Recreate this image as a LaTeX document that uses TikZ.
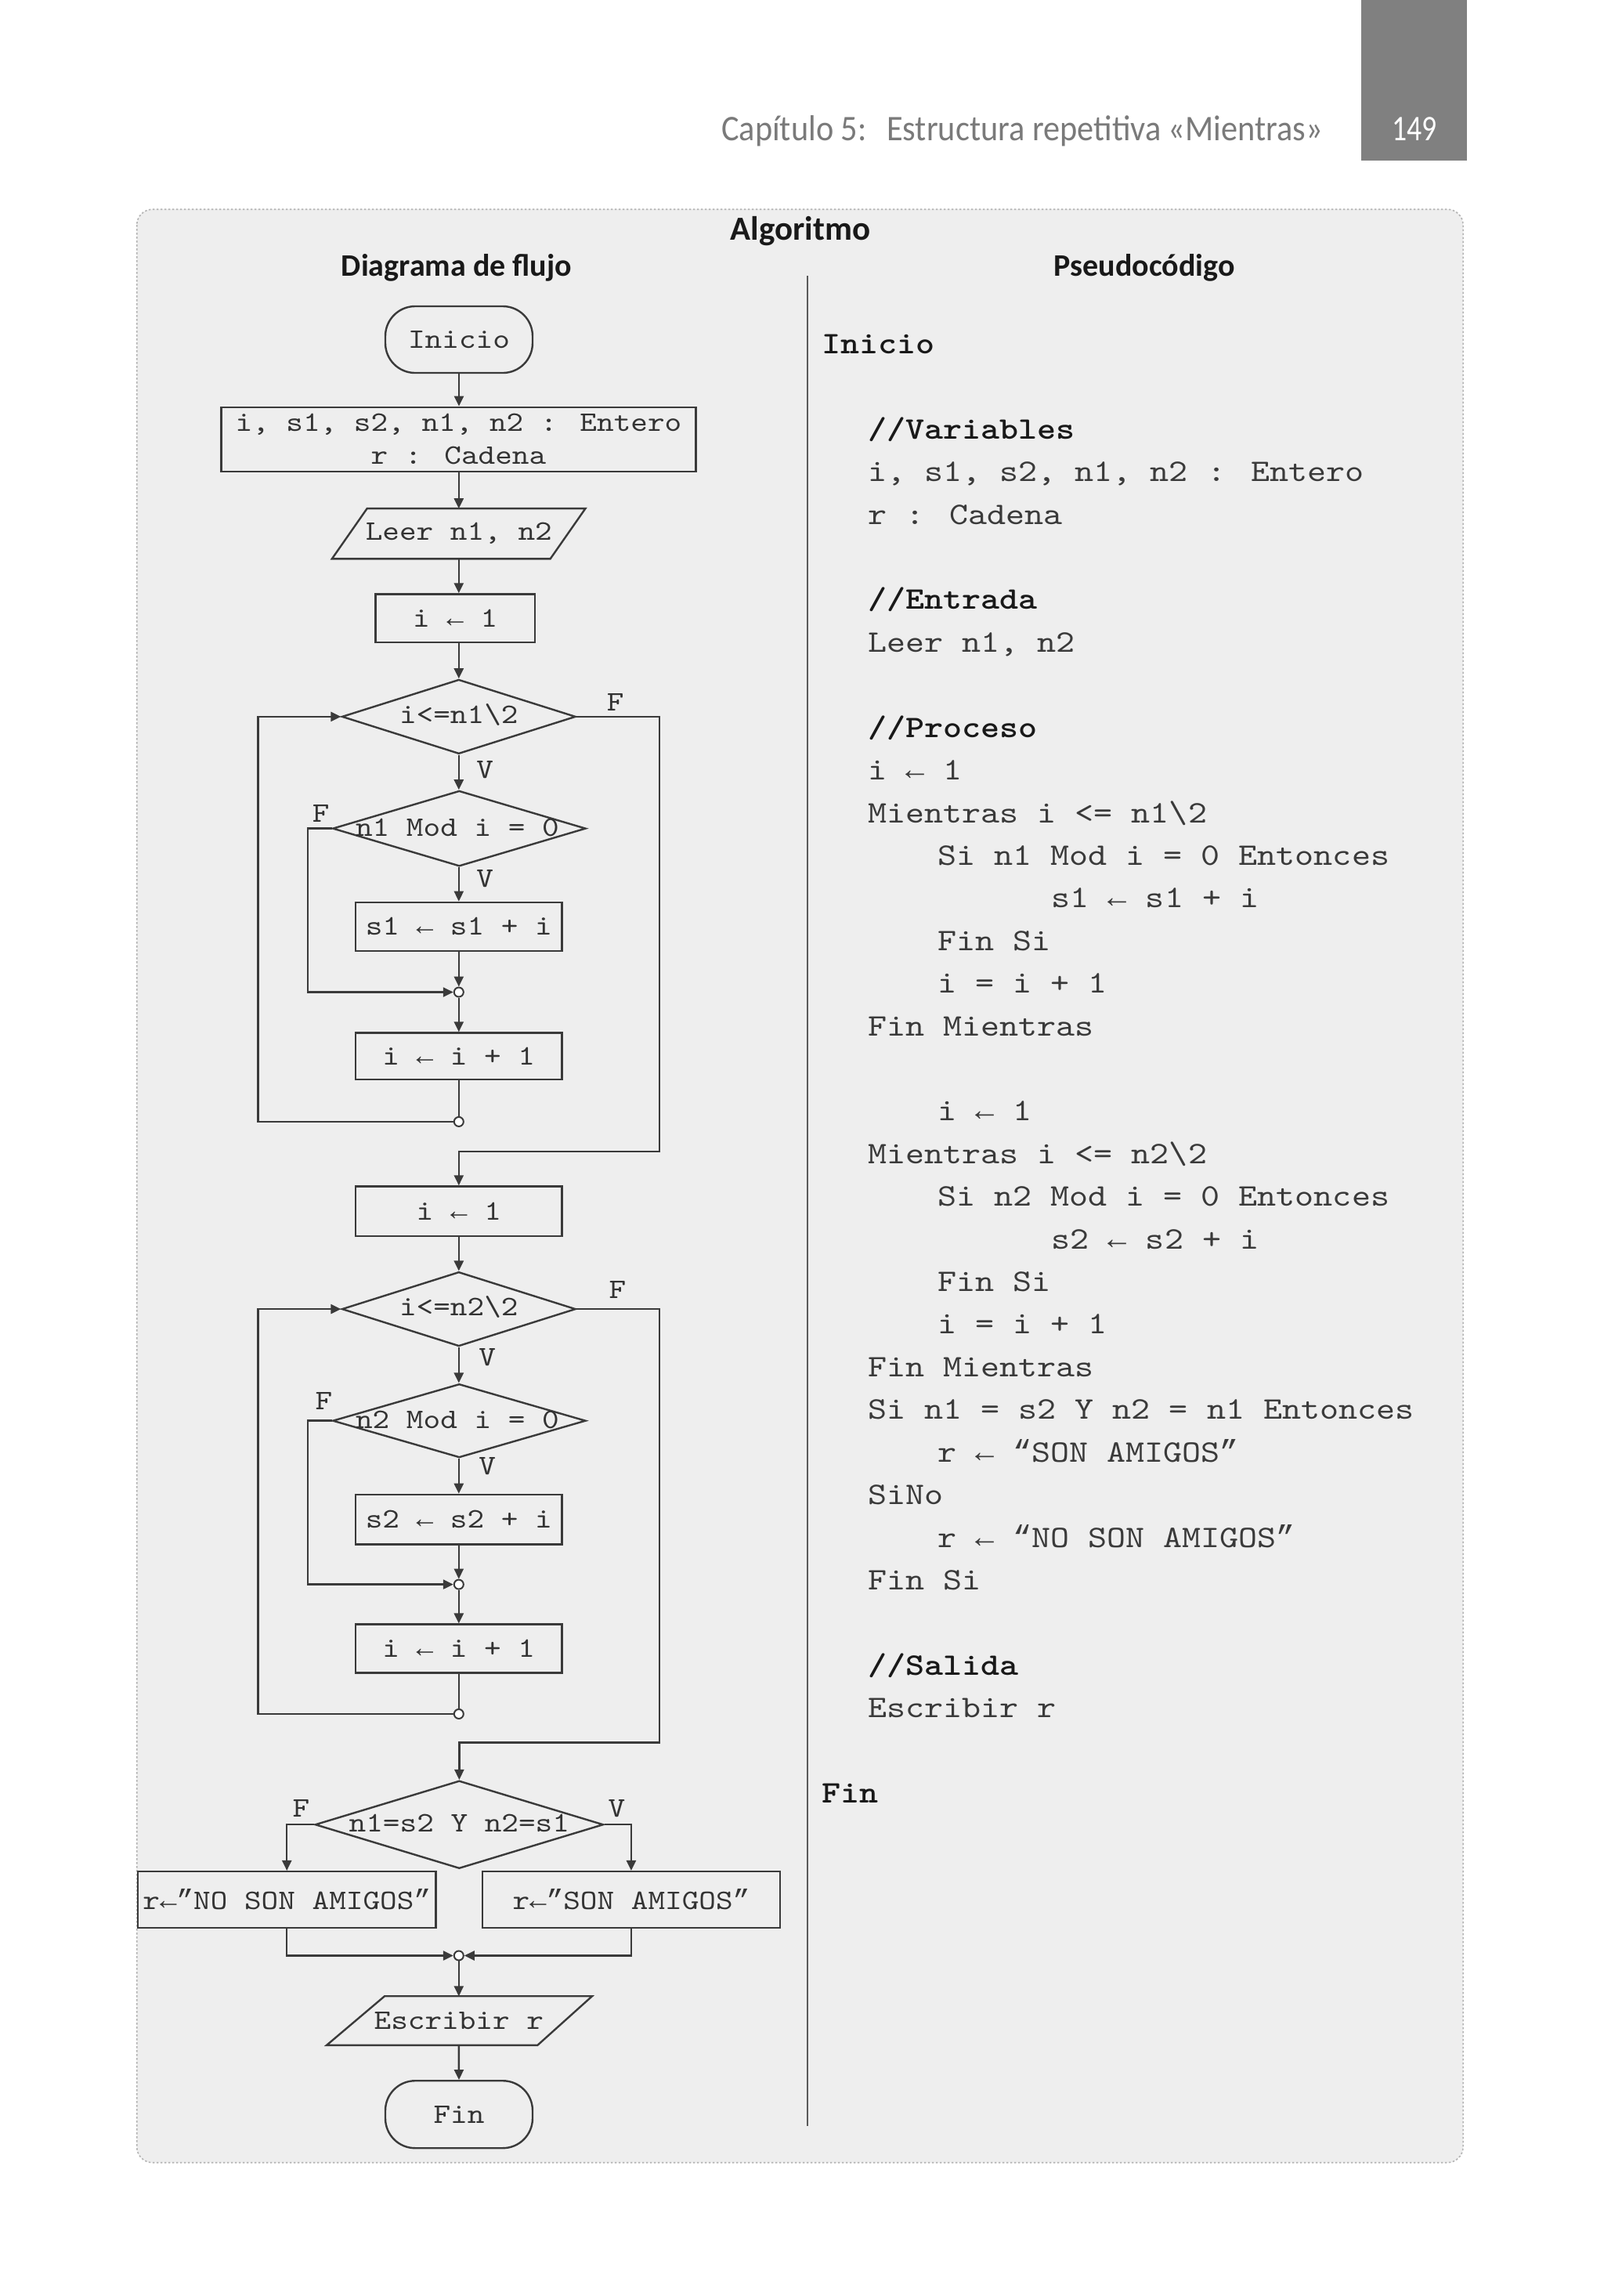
\documentclass[tikz,border=0pt]{standalone}
\usepackage{fontspec}
\usepackage{graphicx}
\usetikzlibrary{shapes.geometric,arrows.meta,calc}
\newfontfamily\monof{lmmono10-regular.otf}[BoldFont=lmmonolt10-bold.otf, FakeStretch=1.145]
\newfontfamily\arrf{Liberation Mono}
\newfontfamily\headf{Carlito}
\newcommand\la{{\arrf ←}}
\newcommand\oqt{{\arrf “}}
\newcommand\cqt{{\arrf ”}}
\definecolor{bgbox}{HTML}{EEEEEE}
\definecolor{lc}{HTML}{3A3A3A}
\definecolor{tc}{HTML}{333333}
\definecolor{pc}{HTML}{3A3A3A}
\definecolor{hgray}{HTML}{7A7A7A}
\definecolor{tabg}{HTML}{808080}
\definecolor{dotc}{HTML}{B4B4B4}
\definecolor{divc}{HTML}{5A5A5A}
\newcommand\dU{1.8686pt}
\newcommand\flowfs{\monof\fontsize{36}{42}\selectfont}
\newcommand\pfs{\monof\fontsize{40}{48}\selectfont}
\newcommand\pline[4]{\node[pseudo] (#1) at (#2,{241.6+29.12*#3}) {#4};}
\newcommand\pbline[4]{\node[pbold] (#1) at (#2,{241.6+29.12*#3}) {#4};}
\tikzset{
  ln/.style={draw=lc, line width=2.4pt},
  arr/.style={ln, -{Triangle[length=13pt,width=12pt]}},
  fbox/.style={draw=lc, line width=2.4pt, rectangle, inner sep=0pt, font=\flowfs, text=tc},
  term/.style={fbox, rounded corners=38pt, minimum width=100.6*\dU, minimum height=45.5*\dU},
  dia/.style={draw=lc, line width=2.4pt, diamond, inner sep=0pt},
  ftxt/.style={font=\flowfs, text=tc, inner sep=0pt},
  jn/.style={circle, draw=lc, fill=white, line width=2pt, inner sep=0pt, minimum size=12pt},
  iobox/.style={rectangle, inner sep=0pt, outer sep=0pt, font=\flowfs, text=tc},
  ioline/.style={draw=lc, line width=2.4pt, line join=miter},
  pseudo/.style={font=\pfs, text=pc, inner sep=0pt, anchor=base west},
  pbold/.style={font=\pfs\bfseries, text=black!90, inner sep=0pt, anchor=base west},
  headb/.style={font=\headf\bfseries\fontsize{40}{48}\selectfont, text=black!90, inner sep=0pt, anchor=base},
}
\begin{document}
\begin{tikzpicture}[x=1.8686pt,y=-1.8686pt]
\useasboundingbox (0,0) rectangle (1096,1568.55);
\fill[white] (0,0) rectangle (1096,1568.55);

% page header
\fill[tabg] (930,0) rectangle (1002.6,109.7);
\node[anchor=base east, inner sep=0pt, text=hgray, font=\headf\fontsize{46}{50}\selectfont] (cap) at (904,96.3)
  {\scalebox{0.92}[1]{Capítulo 5:\hspace{0.3em} Estructura repetitiva «Mientras»}};
\node[anchor=base, inner sep=0pt, text=white, font=\headf\fontsize{46}{50}\selectfont] (pg) at (966.5,96.3)
  {\scalebox{0.82}[1]{149}};

% frame
\draw[dotc, line width=1.6pt, dash pattern=on 2.5pt off 2.5pt, fill=bgbox, rounded corners=20pt]
  (93.5,143) rectangle (999.7,1477.4);
\node[headb, font=\headf\bfseries\fontsize{43}{50}\selectfont] (alg) at (547,164) {Algoritmo};
\node[headb] (dfl) at (312,188.7) {Diagrama de flujo};
\node[headb] (pse) at (782,188.7) {Pseudocódigo};
\draw[divc, line width=2.6pt] (551.7,188.6) -- (551.7,1452.6);

% ---------------- flowchart ----------------
\node[term] (ini) at (313.6,232) {Inicio};
\node[fbox, minimum width=324.3*\dU, minimum height=44*\dU, align=center] (decl) at (313.3,300.2)
  {i, s1, s2, n1, n2 : Entero\\r : Cadena};
\node[iobox, minimum width=120*\dU, minimum height=34.4*\dU] (leer) at (313.5,364.6) {Leer n1, n2};
\draw[ioline] (250.8,347.4) -- (400,347.4) -- (376,381.8) -- (226.8,381.8) -- cycle;
\node[fbox, minimum width=108.7*\dU, minimum height=33*\dU] (i1) at (311,422.4) {i \la{} 1};
\node[dia, minimum width=159.8*\dU, minimum height=50.8*\dU] (d1) at (313.5,489.6) {};
\node[ftxt] (d1t) at (313.5,488.5) {i<=n1\textbackslash 2};
\node[dia, minimum width=173*\dU, minimum height=51.6*\dU] (d2) at (313.8,566) {};
\node[ftxt] (d2t) at (312.5,565.5) {n1 Mod i = 0};
\node[fbox, minimum width=141*\dU, minimum height=33.2*\dU] (s1) at (313.5,633) {s1 \la{} s1 + i};
\node[jn] (j1) at (313.5,677.8) {};
\node[fbox, minimum width=141*\dU, minimum height=32*\dU] (inc1) at (313.5,721.6) {i \la{} i + 1};
\node[jn] (j1b) at (313.5,766.3) {};
\node[fbox, minimum width=141*\dU, minimum height=34*\dU] (i2) at (313.5,827.5) {i \la{} 1};
\node[dia, minimum width=159.8*\dU, minimum height=50.8*\dU] (d3) at (313.5,894.3) {};
\node[ftxt] (d3t) at (313.5,893) {i<=n2\textbackslash 2};
\node[dia, minimum width=173*\dU, minimum height=50.3*\dU] (d4) at (313.8,970.6) {};
\node[ftxt] (d4t) at (312.5,970) {n2 Mod i = 0};
\node[fbox, minimum width=141*\dU, minimum height=34*\dU] (s2) at (313.5,1038) {s2 \la{} s2 + i};
\node[jn] (j2) at (313.5,1082.4) {};
\node[fbox, minimum width=141*\dU, minimum height=33.2*\dU] (inc2) at (313.5,1126.3) {i \la{} i + 1};
\node[jn] (j2b) at (313.5,1170.9) {};
\node[dia, minimum width=197*\dU, minimum height=60*\dU] (d5) at (313.8,1246.5) {};
\node[ftxt] (d5t) at (313.8,1245.5) {n1=s2 Y n2=s1};
\node[fbox, minimum width=203.7*\dU, minimum height=38.5*\dU] (no) at (196,1297.8) {r\la\cqt NO SON AMIGOS\cqt};
\node[fbox, minimum width=203.6*\dU, minimum height=38.5*\dU] (son) at (431.3,1297.8) {r\la\cqt SON AMIGOS\cqt};
\node[jn] (j3) at (313.5,1336) {};
\node[iobox, minimum width=120*\dU, minimum height=33.5*\dU] (esc) at (313.5,1380.5) {Escribir r};
\draw[ioline] (262.8,1363.7) -- (404.6,1363.7) -- (367.3,1397.2) -- (223.2,1397.2) -- cycle;
\node[term, minimum height=46*\dU] (fin) at (313.6,1444.5) {Fin};

% labels
\node[ftxt] (lf1) at (420.5,480) {F};
\node[ftxt] (lv1) at (331.3,526) {V};
\node[ftxt] (lf2) at (219.3,555.8) {F};
\node[ftxt] (lv2) at (331.3,600.4) {V};
\node[ftxt] (lf3) at (422,881.3) {F};
\node[ftxt] (lv3) at (333,927.2) {V};
\node[ftxt] (lf4) at (221.3,957.1) {F};
\node[ftxt] (lv4) at (333,1001.6) {V};
\node[ftxt] (lf5) at (205.8,1235.5) {F};
\node[ftxt] (lv5) at (421.4,1235.5) {V};

% connectors
\draw[arr] (ini.south) -- (ini.south |- decl.north);
\draw[arr] (decl.south -| leer.north) -- (leer.north);
\draw[arr] (leer.south) -- (leer.south |- i1.north);
\draw[arr] (i1.south -| d1.north) -- (d1.north);
\draw[arr] (d1.south) -- (d1.south |- d2.north);
\draw[arr] (d2.south -| s1.north) -- (s1.north);
\draw[arr] (s1.south) -- (j1.north);
\draw[arr] (d2.west) -- (210.3,566) |- (j1.west);
\draw[arr] (j1.south) -- (inc1.north);
\draw[ln] (inc1.south) -- (j1b.north);
\draw[arr] (j1b.west) -- (176.3,766.3) |- (d1.west);
\draw[arr] (d1.east) -| (450.5,786.7) -| (i2.north);
\draw[arr] (i2.south) -- (d3.north);
\draw[arr] (d3.south) -- (d3.south |- d4.north);
\draw[arr] (d4.south -| s2.north) -- (s2.north);
\draw[arr] (s2.south) -- (j2.north);
\draw[arr] (d4.west) -- (210.3,970.6) |- (j2.west);
\draw[arr] (j2.south) -- (inc2.north);
\draw[ln] (inc2.south) -- (j2b.north);
\draw[arr] (j2b.west) -- (176.3,1170.9) |- (d3.west);
\draw[arr] (d3.east) -| (450.5,1190.5) -| (d5.north);
\draw[arr] (d5.west) -| (no.north);
\draw[arr] (d5.east) -| (son.north);
\draw[arr] (no.south) |- (j3.west);
\draw[arr] (son.south) |- (j3.east);
\draw[arr] (j3.south) -- (esc.north);
\draw[arr] (esc.south) -- (fin.north);

% ---------------- pseudocode ----------------
\pbline{p1}{561.5}{0}{Inicio}
\pbline{p2}{593}{2}{//Variables}
\pline{p3}{593}{3}{i, s1, s2, n1, n2 : Entero}
\pline{p4}{593}{4}{r : Cadena}
\pbline{p5}{593}{6}{//Entrada}
\pline{p6}{593}{7}{Leer n1, n2}
\pbline{p7}{593}{9}{//Proceso}
\pline{p8}{593}{10}{i \la{} 1}
\pline{p9}{593}{11}{Mientras i <= n1\textbackslash 2}
\pline{p10}{640.5}{12}{Si n1 Mod i = 0 Entonces}
\pline{p11}{718.5}{13}{s1 \la{} s1 + i}
\pline{p12}{640.5}{14}{Fin Si}
\pline{p13}{640.5}{15}{i = i + 1}
\pline{p14}{593}{16}{Fin Mientras}
\pline{p15}{640.5}{18}{i \la{} 1}
\pline{p16}{593}{19}{Mientras i <= n2\textbackslash 2}
\pline{p17}{640.5}{20}{Si n2 Mod i = 0 Entonces}
\pline{p18}{718.5}{21}{s2 \la{} s2 + i}
\pline{p19}{640.5}{22}{Fin Si}
\pline{p20}{640.5}{23}{i = i + 1}
\pline{p21}{593}{24}{Fin Mientras}
\pline{p22}{593}{25}{Si n1 = s2 Y n2 = n1 Entonces}
\pline{p23}{640.5}{26}{r \la{} \oqt SON AMIGOS\cqt}
\pline{p24}{593}{27}{SiNo}
\pline{p25}{640.5}{28}{r \la{} \oqt NO SON AMIGOS\cqt}
\pline{p26}{593}{29}{Fin Si}
\pbline{p27}{593}{31}{//Salida}
\pline{p28}{593}{32}{Escribir r}
\pbline{p29}{561.5}{34}{Fin}
\end{tikzpicture}
\end{document}
